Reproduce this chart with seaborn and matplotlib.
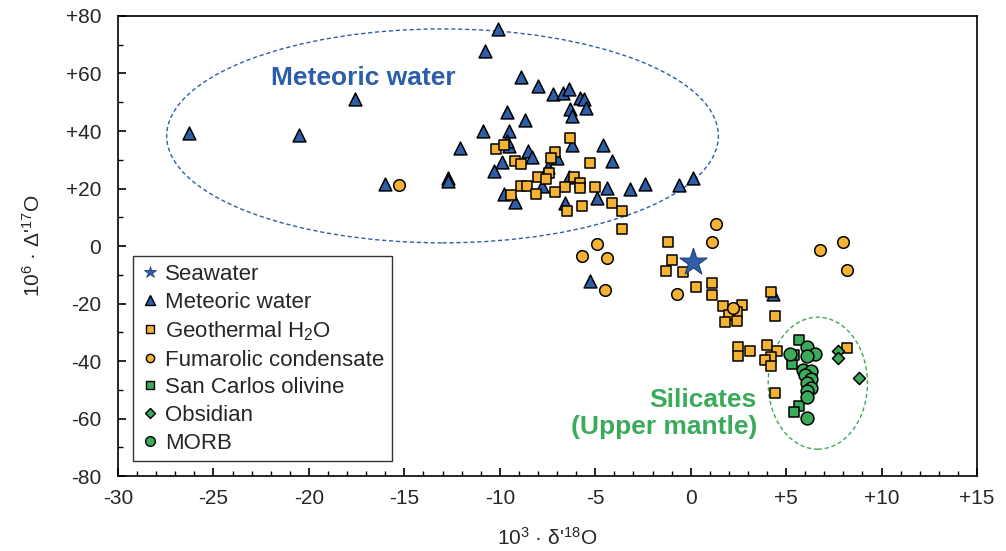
import numpy as np
import pandas as pd
import matplotlib
matplotlib.use("Agg")
import matplotlib.pyplot as plt
import seaborn as sns
from matplotlib.patches import Ellipse
from matplotlib.lines import Line2D
from matplotlib.ticker import MultipleLocator, FuncFormatter

# values: x = 10^3 d'18O, y = 10^6 D'17O
seawater_x = [0.1]
seawater_y = [-5.4]

meteoric_x = [-26.3, -20.5, -17.6, -16.0, -12.7, -12.7, -12.1, -10.9, -10.1, -10.8,
              -8.9, -8.0, -7.2, -6.7, -6.4, -5.8, -5.6, -5.5, -6.3, -6.2,
              -9.6, -8.7, -9.5, -9.5, -8.5, -8.3, -9.9, -10.3, -6.2, -4.6,
              -4.1, -7.0, -7.8, -9.8, -9.2, -6.6, -4.9, -4.4, -3.2, -2.4,
              -0.6, 0.1, -5.3, 4.3, -7.5, -6.4, -9.6]
meteoric_y = [39.2, 38.7, 51.0, 21.6, 23.5, 22.6, 34.2, 40.1, 75.4, 67.8,
              58.9, 55.7, 52.8, 53.1, 54.5, 51.6, 51.0, 48.1, 47.5, 45.2,
              46.7, 43.8, 40.1, 34.8, 33.1, 31.1, 29.3, 26.1, 35.1, 35.1,
              29.7, 30.7, 20.9, 18.0, 15.4, 15.1, 16.6, 20.1, 19.9, 21.6,
              21.1, 23.5, -12.1, -16.8, 27.6, 24.1, 36.5]

geothermal_x = [-10.2, -9.8, -6.3, -7.1, -7.3, -9.2, -8.9, -5.3, -8.0, -7.4,
                -7.6, -6.1, -5.8, -5.8, -8.9, -8.6, -6.6, -5.0, -7.1, -9.4,
                -8.1, -5.7, -6.5, -4.1, -3.6, -3.6, -1.2, -1.0, -1.3, -0.4,
                0.3, 1.1, 1.1, 1.7, 2.7, 2.4, 2.0, 1.8, 2.4, 4.2,
                4.4, 2.5, 2.5, 3.1, 4.0, 4.5, 4.2, 3.9, 4.2, 4.4, 8.2]
geothermal_y = [33.7, 35.1, 37.5, 32.8, 30.5, 29.7, 28.5, 29.0, 24.1, 25.3,
                23.2, 23.9, 22.0, 20.1, 20.9, 21.0, 20.6, 20.6, 18.9, 17.8,
                18.0, 14.0, 12.3, 15.1, 12.2, 5.9, 1.4, -5.0, -8.6, -9.1,
                -14.2, -12.9, -17.0, -20.8, -20.5, -22.9, -24.1, -26.3, -26.1, -16.1,
                -24.5, -35.1, -38.3, -36.4, -34.3, -36.5, -38.5, -39.8, -41.6, -51.2, -35.5]

fumarolic_x = [-15.3, 1.3, 1.1, -4.9, -5.7, -4.4, -4.5, -0.7, 2.2, 6.8, 8.0, 8.2]
fumarolic_y = [21.2, 7.5, 1.4, 0.8, -3.4, -4.1, -15.4, -16.8, -21.7, -1.5, 1.3, -8.2]

olivine_x = [5.7, 5.3, 5.7, 5.4, 5.4]
olivine_y = [-32.7, -41.1, -55.5, -57.8, -37.9]

obsidian_x = [7.7, 7.7, 8.8]
obsidian_y = [-36.5, -38.9, -45.8]

morb_x = [6.1, 6.5, 6.1, 5.2, 5.9, 6.3, 6.0, 6.3, 6.1, 6.3, 6.1, 6.1, 6.1]
morb_y = [-35.2, -37.5, -38.3, -37.5, -43.1, -43.4, -44.9, -46.4, -47.8, -49.5, -50.4, -52.4, -59.9]

blue = "#2F5DA8"
orange = "#F5B335"
green = "#3BAA5A"

sns.set_style("white")
plt.rcParams['font.family'] = ['Liberation Sans', 'DejaVu Sans']
plt.rcParams['mathtext.fontset'] = 'custom'
plt.rcParams['mathtext.rm'] = 'Liberation Sans'
plt.rcParams['mathtext.it'] = 'Liberation Sans:italic'

fig = plt.figure(figsize=(10.06, 5.51), dpi=100)
ax = fig.add_axes([0.1173, 0.136, 0.8539, 0.835])

# dashed ellipses around the groups
ax.add_patch(Ellipse((-13.0, 38.3), 28.9, 74.4, fill=False, ls=(0, (3, 2)),
                     lw=1.0, ec=blue, zorder=1))
ax.add_patch(Ellipse((6.66, -47.7), 5.2, 45.9, fill=False, ls=(0, (3, 2)),
                     lw=1.0, ec=green, zorder=1))

kw = dict(edgecolor='black', linewidth=1.1, ax=ax, legend=False)
sns.scatterplot(x=meteoric_x, y=meteoric_y, marker='^', s=85, color=blue, zorder=3, **kw)
sns.scatterplot(x=geothermal_x, y=geothermal_y, marker='s', s=62, color=orange, zorder=4, **kw)
sns.scatterplot(x=fumarolic_x, y=fumarolic_y, marker='o', s=70, color=orange, zorder=5, **kw)
sns.scatterplot(x=olivine_x, y=olivine_y, marker='s', s=62, color=green, zorder=5, **kw)
sns.scatterplot(x=obsidian_x, y=obsidian_y, marker='D', s=38, color=green, zorder=5, **kw)
sns.scatterplot(x=morb_x, y=morb_y, marker='o', s=85, color=green, zorder=6, **kw)
sns.scatterplot(x=seawater_x, y=seawater_y, marker='*', s=420, color=blue,
                edgecolor='#1F3F75', linewidth=0.8, ax=ax, legend=False, zorder=7)

ax.text(-22.0, 58.6, "Meteoric water", color=blue, fontsize=19, fontweight='bold',
        ha='left', va='center')
ax.text(3.47, -58.2, "Silicates\n(Upper mantle)", color=green, fontsize=19,
        fontweight='bold', ha='right', va='center', multialignment='right',
        linespacing=1.12)

ax.set_xlim(-30, 15)
ax.set_ylim(-80, 80)
ax.xaxis.set_major_locator(MultipleLocator(5))
ax.xaxis.set_minor_locator(MultipleLocator(1))
ax.yaxis.set_major_locator(MultipleLocator(20))
ax.yaxis.set_minor_locator(MultipleLocator(10))
signed = FuncFormatter(lambda v, p: f"+{v:g}" if v > 0 else f"{v:g}".replace("\u2212", "-"))
ax.xaxis.set_major_formatter(signed)
ax.yaxis.set_major_formatter(signed)
ax.tick_params(which='both', direction='in', bottom=True, left=True, top=False,
               right=False, labelsize=15, color='black')
ax.tick_params(axis='y', which='both', pad=12)
ax.tick_params(axis='x', which='both', pad=9)
ax.tick_params(which='major', length=6, width=1.2)
ax.tick_params(which='minor', length=3.5, width=1)
for sp in ax.spines.values():
    sp.set_color('black')
    sp.set_linewidth(1.2)

ax.set_xlabel(r"$\mathregular{10^{3}}$ · δ'$\mathregular{^{18}}$O", fontsize=15, labelpad=14)
ax.set_ylabel(r"$\mathregular{10^{6}}$ · Δ'$\mathregular{^{17}}$O", fontsize=15, labelpad=16)

handles = [
    Line2D([], [], ls='', marker='*', ms=9, mfc=blue, mec='#1F3F75', mew=0.6),
    Line2D([], [], ls='', marker='^', ms=7, mfc=blue, mec='black', mew=1),
    Line2D([], [], ls='', marker='s', ms=6, mfc=orange, mec='black', mew=1),
    Line2D([], [], ls='', marker='o', ms=6, mfc=orange, mec='black', mew=1),
    Line2D([], [], ls='', marker='s', ms=6, mfc=green, mec='black', mew=1),
    Line2D([], [], ls='', marker='D', ms=5, mfc=green, mec='black', mew=1),
    Line2D([], [], ls='', marker='o', ms=7, mfc=green, mec='black', mew=1),
]
labels = ["Seawater", "Meteoric water", r"Geothermal H$\mathregular{_2}$O",
          "Fumarolic condensate", "San Carlos olivine", "Obsidian", "MORB"]
leg = ax.legend(handles, labels, loc='upper left', bbox_to_anchor=(0.0175, 0.478),
                borderaxespad=0, fontsize=16, frameon=True, fancybox=False,
                handlelength=0.8, handletextpad=0.3, labelspacing=0.3,
                borderpad=0.35)
leg.get_frame().set_edgecolor('black')
leg.get_frame().set_linewidth(1.0)
leg.set_zorder(10)

fig.savefig("out.png", dpi=100)
